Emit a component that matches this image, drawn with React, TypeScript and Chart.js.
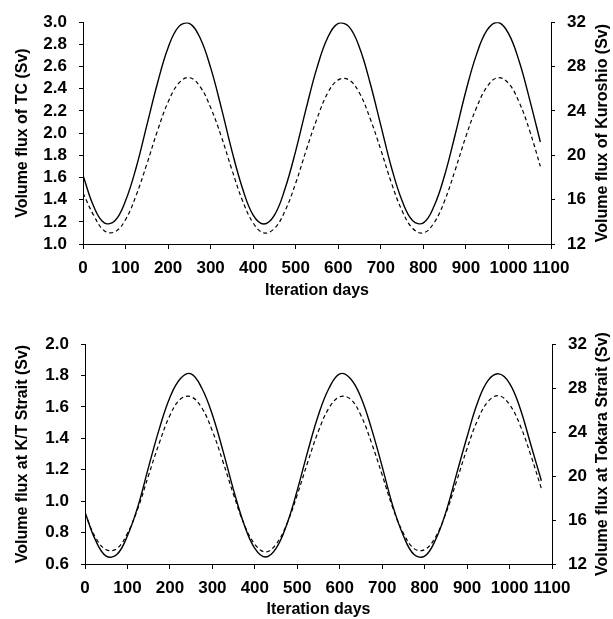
import React, { useEffect, useRef } from "react";
import { Chart, registerables } from "chart.js";

Chart.register(...registerables);

// ---- data ----
const days = [
  0, 25, 50, 75, 100, 125, 150, 175, 200, 225, 250, 275, 300, 325, 350, 375, 400, 425, 450, 475, 500, 525,
  550, 575, 600, 625, 650, 675, 700, 725, 750, 775, 800, 825, 850, 875, 900, 925, 950, 975, 1000, 1025, 1050, 1075,
];

// Top panel: TC (solid, left axis) and Kuroshio (dashed, right axis)
const tcFlux = [
  1.62, 1.34, 1.19, 1.21, 1.39, 1.69, 2.07, 2.45, 2.77, 2.96, 2.99, 2.86, 2.59, 2.23, 1.84, 1.5, 1.26, 1.18, 1.26,
  1.5, 1.84, 2.23, 2.59, 2.86, 2.99, 2.96, 2.77, 2.45, 2.07, 1.69, 1.39, 1.21, 1.19, 1.34, 1.62, 1.99, 2.38, 2.71,
  2.93, 3.0, 2.9, 2.65, 2.3, 1.92,
];
const kuroshioFlux = [
  16.6, 14.6, 13.2, 13.1, 14.2, 16.4, 19.2, 22.2, 24.8, 26.5, 27.0, 26.2, 24.3, 21.7, 18.7, 15.9, 13.9, 13.0, 13.4,
  15.0, 17.5, 20.5, 23.3, 25.6, 26.8, 26.8, 25.6, 23.3, 20.5, 17.5, 15.0, 13.4, 13.0, 13.9, 15.9, 18.7, 21.7, 24.3,
  26.2, 27.0, 26.5, 24.8, 22.2, 19.0,
];

// Bottom panel: K/T Strait (solid, left axis) and Tokara Strait (dashed, right axis)
const ktFlux = [
  0.93, 0.75, 0.65, 0.66, 0.78, 0.97, 1.22, 1.46, 1.66, 1.78, 1.81, 1.72, 1.55, 1.32, 1.07, 0.85, 0.7, 0.645, 0.7,
  0.85, 1.07, 1.32, 1.55, 1.72, 1.81, 1.78, 1.66, 1.46, 1.22, 0.97, 0.78, 0.66, 0.65, 0.75, 0.93, 1.17, 1.41, 1.63,
  1.77, 1.81, 1.75, 1.59, 1.36, 1.13,
];
const tokaraFlux = [
  16.6, 14.4, 13.3, 13.4, 14.8, 17.1, 20.1, 23.0, 25.5, 27.0, 27.2, 26.2, 24.1, 21.3, 18.3, 15.6, 13.8, 13.1, 13.8,
  15.6, 18.3, 21.3, 24.1, 26.2, 27.2, 27.0, 25.5, 23.0, 20.1, 17.1, 14.8, 13.4, 13.3, 14.4, 16.6, 19.5, 22.5, 25.1,
  26.8, 27.3, 26.5, 24.6, 21.9, 18.85,
];

const xTitle = "Iteration days";

const FONT = '"Liberation Sans", Arial, Helvetica, sans-serif';

const rightTitlePlugin = {
  id: "rightTitle",
  afterDraw(chart: any, _args: any, opts: any) {
    const { ctx, chartArea } = chart;
    ctx.save();
    ctx.font = `bold 16px ${FONT}`;
    ctx.fillStyle = "#000";
    ctx.textAlign = "center";
    ctx.textBaseline = "middle";
    ctx.translate(opts.x, (chartArea.top + chartArea.bottom) / 2 + (opts.dy || 0));
    ctx.rotate(-Math.PI / 2);
    ctx.fillText(opts.text, 0, 0);
    ctx.restore();
  },
};

type PanelProps = {
  height: number;
  solid: number[];
  dashed: number[];
  leftMin: number;
  leftMax: number;
  leftStep: number;
  rightMin: number;
  rightMax: number;
  rightStep: number;
  leftTitle: string;
  rightTitle: string;
  padTop: number;
  leftW: number;
  rightW: number;
  xH: number;
  xTitlePadBottom: number;
};

function Panel(p: PanelProps) {
  const ref = useRef<HTMLCanvasElement | null>(null);
  useEffect(() => {
    if (!ref.current) return;
    const tickFont = { family: FONT, size: 17, weight: "bold" as const };
    const titleFont = { family: FONT, size: 16, weight: "bold" as const };
    const chart = new Chart(ref.current, {
      type: "line",
      data: {
        datasets: [
          {
            data: days.map((d, i) => ({ x: d, y: p.solid[i] })),
            borderColor: "#000",
            borderWidth: 1.4,
            pointRadius: 0,
            tension: 0.4,
            yAxisID: "y",
          },
          {
            data: days.map((d, i) => ({ x: d, y: p.dashed[i] })),
            borderColor: "#000",
            borderWidth: 1.2,
            borderDash: [4, 3],
            pointRadius: 0,
            tension: 0.4,
            yAxisID: "y2",
          },
        ],
      },
      options: {
        responsive: false,
        animation: false,
        layout: { padding: { top: p.padTop, left: 0, right: 0, bottom: 0 } },
        plugins: {
          legend: { display: false },
          tooltip: { enabled: false },
          rightTitle: { text: p.rightTitle, x: 603 },
        } as any,
        scales: {
          x: {
            type: "linear",
            min: 0,
            max: 1100,
            afterFit: (s: any) => {
              s.height = p.xH;
            },
            ticks: {
              stepSize: 100,
              autoSkip: false,
              maxRotation: 0,
              minRotation: 0,
              color: "#000",
              font: tickFont,
              padding: 9,
              callback: (v: any) => String(v),
            },
            grid: { drawOnChartArea: false, drawTicks: true, tickLength: 5, color: "#000" },
            border: { display: true, color: "#000", width: 1 },
            title: {
              display: true,
              text: xTitle,
              color: "#000",
              font: titleFont,
              padding: { top: 0, bottom: p.xTitlePadBottom },
            },
          },
          y: {
            type: "linear",
            position: "left",
            min: p.leftMin,
            max: p.leftMax,
            afterFit: (s: any) => {
              s.width = p.leftW;
            },
            ticks: {
              stepSize: p.leftStep,
              autoSkip: false,
              color: "#000",
              font: tickFont,
              padding: 12,
              callback: (v: any) => Number(v).toFixed(1),
            },
            grid: { drawOnChartArea: false, drawTicks: true, tickLength: 4, color: "#000" },
            border: { display: true, color: "#000", width: 1 },
            title: {
              display: true,
              text: p.leftTitle,
              color: "#000",
              font: titleFont,
              padding: { top: 13, bottom: 0 },
            },
          },
          y2: {
            type: "linear",
            position: "right",
            min: p.rightMin,
            max: p.rightMax,
            afterFit: (s: any) => {
              s.width = p.rightW;
            },
            ticks: {
              stepSize: p.rightStep,
              autoSkip: false,
              color: "#000",
              font: tickFont,
              padding: 12,
            },
            grid: { drawOnChartArea: false, drawTicks: true, tickLength: 4, color: "#000" },
            border: { display: true, color: "#000", width: 1 },
          },
        },
      },
      plugins: [rightTitlePlugin],
    } as any);
    return () => chart.destroy();
  }, []);
  return <canvas ref={ref} width={613} height={p.height} style={{ display: "block", width: 613, height: p.height }} />;
}

export default function App() {
  return (
    <div style={{ position: "absolute", left: 0, top: 0, width: 613, height: 619, background: "#fff" }}>
      <Panel
        height={310}
        solid={tcFlux}
        dashed={kuroshioFlux}
        leftMin={1.0}
        leftMax={3.0}
        leftStep={0.2}
        rightMin={12}
        rightMax={32}
        rightStep={4}
        leftTitle="Volume flux of TC (Sv)"
        rightTitle="Volume flux of Kuroshio (Sv)"
        padTop={21}
        leftW={83}
        rightW={62}
        xH={66}
        xTitlePadBottom={10}
      />
      <Panel
        height={309}
        solid={ktFlux}
        dashed={tokaraFlux}
        leftMin={0.6}
        leftMax={2.0}
        leftStep={0.2}
        rightMin={12}
        rightMax={32}
        rightStep={4}
        leftTitle="Volume flux at K/T Strait (Sv)"
        rightTitle="Volume flux at Tokara Strait (Sv)"
        padTop={34}
        leftW={85}
        rightW={61}
        xH={55}
        xTitlePadBottom={0}
      />
    </div>
  );
}
